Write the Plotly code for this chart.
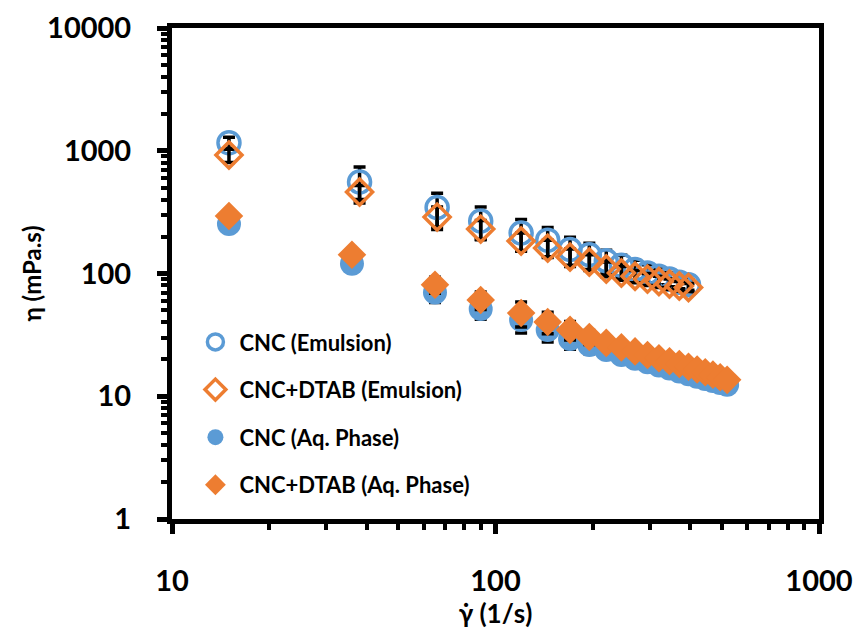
import plotly.graph_objects as go

# Shear rate (1/s) for the emulsion runs and the aqueous-phase runs
rate_emulsion = [15, 38, 66, 90, 120, 145, 170, 195, 220, 245, 270, 295, 320, 345, 370, 395]
rate_aqueous = [15, 36, 65, 90, 120, 145, 170, 195, 220, 245, 270, 295, 320, 345, 370,
                395, 420, 445, 470, 495, 520]

# Viscosity (mPa.s) and standard deviations
cnc_emulsion = [1160, 556, 345, 268, 214, 187, 157, 142, 127, 117, 108, 101, 95, 90, 85, 81]
cnc_emulsion_sd = [130, 180, 105, 80, 62, 50, 40, 34, 28, 24, 20, 17, 14, 12, 10, 8]

dtab_emulsion = [922, 461, 288, 230, 184, 161, 136, 124, 109, 101, 95, 90, 86, 82, 79, 77]
dtab_emulsion_sd = [120, 60, 60, 40, 30, 26, 22, 18, 15, 13, 11, 10, 9, 8, 7, 6]

cnc_aqueous = [253, 120, 70, 51.4, 41.8, 34.7, 29.2, 26.2, 23.8, 21.7, 20.2, 18.9, 17.8,
               16.8, 15.9, 15.1, 14.4, 13.8, 13.3, 12.8, 12.4]
cnc_aqueous_sd = [12, 14, 12, 9, 9, 7, 5, 4, 3, 2, 2, 2, 1, 1, 1, 1, 1, 1, 1, 1, 1]

dtab_aqueous = [294, 142, 81, 60.8, 47.6, 40.3, 34.7, 30.4, 27.2, 25.0, 23.2, 21.7, 20.4,
                19.3, 18.3, 17.4, 16.5, 15.7, 15.0, 14.3, 13.6]
dtab_aqueous_sd = [15, 15, 12, 10, 11, 8, 6, 4, 3, 2, 2, 2, 1, 1, 1, 1, 1, 1, 1, 1, 1]

series_names = ["CNC (Emulsion)", "CNC+DTAB (Emulsion)", "CNC (Aq. Phase)", "CNC+DTAB (Aq. Phase)"]

BLUE = "#5B9BD5"
ORANGE = "#ED7D31"
FONT = "Lato"


def err(values):
    return dict(type="data", array=values, visible=True, color="black",
                thickness=3.5, width=6)


fig = go.Figure()

fig.add_trace(go.Scatter(
    x=rate_emulsion, y=cnc_emulsion, name=series_names[0], mode="markers",
    error_y=err(cnc_emulsion_sd), legendgroup="a",
    marker=dict(symbol="circle-open", size=22, color=BLUE, line=dict(width=3.5, color=BLUE)),
))
fig.add_trace(go.Scatter(
    x=rate_emulsion, y=dtab_emulsion, name=series_names[1], mode="markers",
    error_y=err(dtab_emulsion_sd), legendgroup="b",
    marker=dict(symbol="diamond-open", size=20, color=ORANGE, line=dict(width=3.5, color=ORANGE)),
))
fig.add_trace(go.Scatter(
    x=rate_aqueous, y=cnc_aqueous, name=series_names[2], mode="markers",
    error_y=err(cnc_aqueous_sd), legendgroup="c",
    marker=dict(symbol="circle", size=24, color=BLUE, line=dict(width=0)),
))
fig.add_trace(go.Scatter(
    x=rate_aqueous, y=dtab_aqueous, name=series_names[3], mode="markers",
    error_y=err(dtab_aqueous_sd), legendgroup="d",
    marker=dict(symbol="diamond", size=22, color=ORANGE, line=dict(width=0)),
))

axis_common = dict(
    type="log", showgrid=False, zeroline=False, automargin=False,
    showline=True, linecolor="black", linewidth=5, mirror=True,
    ticks="outside", ticklen=10, tickwidth=5, tickcolor="black",
    minor=dict(ticks="outside", ticklen=6, tickwidth=4, tickcolor="black", showgrid=False),
    tickfont=dict(family=FONT, size=29, color="black", weight="bold"),
    dtick=1, tickformat="d",
)

fig.update_xaxes(
    **axis_common, range=[1, 3],
    ticklabelstandoff=22,
    title=dict(text="γ̇ (1/s)", standoff=7,
               font=dict(family=FONT, size=26, color="black", weight="bold")),
)
fig.update_yaxes(
    **axis_common, range=[0, 4],
    ticklabelstandoff=20,
    title=dict(text="η (mPa.s)", standoff=0,
               font=dict(family=FONT, size=24, color="black", weight="bold")),
)

fig.update_layout(
    width=859, height=631,
    margin=dict(l=172, r=40, t=28, b=112),
    paper_bgcolor="white", plot_bgcolor="white",
    showlegend=True,
    legend=dict(
        x=0.03, y=0.403, xanchor="left", yanchor="top",
        bgcolor="rgba(0,0,0,0)", borderwidth=0,
        font=dict(family=FONT, size=22, color="black", weight="bold"),
        tracegroupgap=16, itemsizing="trace", itemwidth=38,
    ),
)

fig.write_html("out.html")
